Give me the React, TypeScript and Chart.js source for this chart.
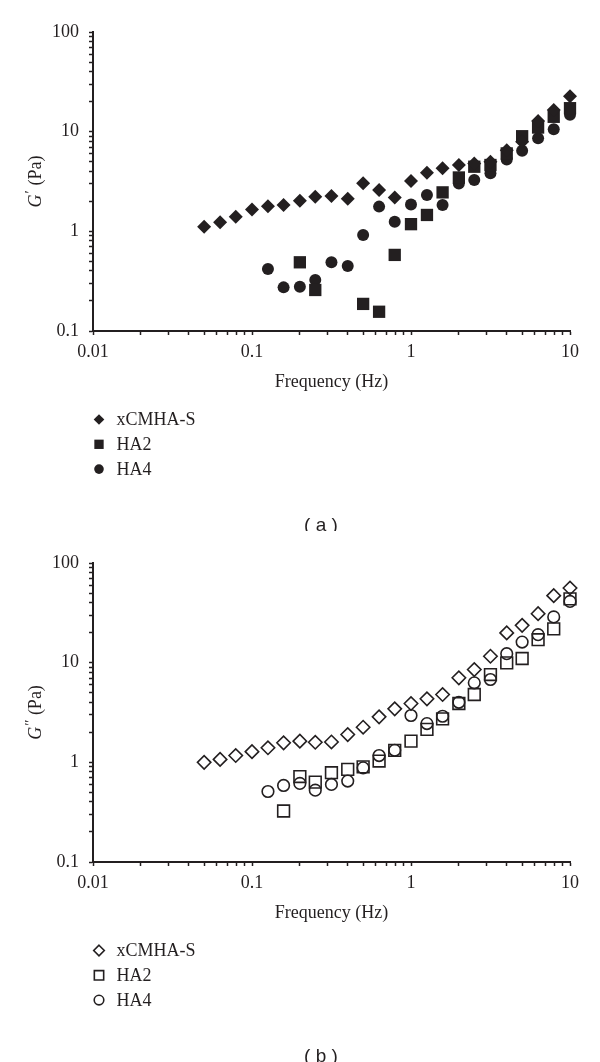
import React, { useEffect, useRef } from "react";
import { Chart, registerables } from "chart.js";

Chart.register(...registerables);

// ---------- data ----------
const frequency = [0.05, 0.063, 0.079, 0.1, 0.126, 0.158, 0.2, 0.25, 0.316, 0.4, 0.5, 0.63, 0.79, 1, 1.26, 1.58, 2, 2.5, 3.16, 4, 5, 6.3, 7.9, 10];
const seriesNames = ["xCMHA-S", "HA2", "HA4"];

// G' (Pa)
const storageXCMHA = [1.11, 1.23, 1.4, 1.66, 1.79, 1.84, 2.03, 2.22, 2.26, 2.12, 3.03, 2.6, 2.19, 3.2, 3.87, 4.29, 4.62, 4.8, 5.0, 6.5, 7.9, 12.8, 16.5, 22.6];
const storageHA2 = [null, null, null, null, null, null, 0.489, 0.258, null, null, 0.187, 0.156, 0.58, 1.18, 1.46, 2.46, 3.47, 4.45, 4.63, 6.05, 9.0, 11.0, 14.1, 17.2];
const storageHA4 = [null, null, null, null, 0.42, 0.274, 0.278, 0.325, 0.489, 0.449, 0.918, 1.77, 1.25, 1.86, 2.31, 1.84, 3.02, 3.27, 3.82, 5.27, 6.43, 8.57, 10.6, 14.8];

// G'' (Pa)
const lossXCMHA = [1.0, 1.07, 1.17, 1.28, 1.4, 1.57, 1.63, 1.59, 1.6, 1.9, 2.25, 2.86, 3.44, 3.89, 4.34, 4.79, 7.05, 8.53, 11.6, 19.9, 23.7, 31.0, 47.0, 56.1];
const lossHA2 = [null, null, null, null, null, 0.325, 0.72, 0.634, 0.787, 0.849, 0.9, 1.03, 1.32, 1.63, 2.14, 2.73, 3.89, 4.79, 7.6, 9.96, 11.0, 17.0, 21.8, 43.6];
const lossHA4 = [null, null, null, null, 0.51, 0.586, 0.615, 0.526, 0.6, 0.649, 0.88, 1.17, 1.32, 2.95, 2.45, 2.9, 4.0, 6.28, 6.78, 12.3, 16.1, 19.1, 28.8, 41.2];

const xTickLabels = ["0.01", "0.1", "1", "10"];
const yTickLabels = ["0.1", "1", "10", "100"];

// ---------- styles ----------
const FONT = '"Liberation Serif", "Times New Roman", serif';
const SANS = '"Liberation Sans", Arial, sans-serif';
const INK = "#231f20";
const markerStyles = ["rectRot", "rect", "circle"];
const filledRadii = [7, 8.7, 6];
const outlineRadii = [6.7, 8.3, 5.8];
const legendSizes = [5.3, 6.6, 4.8];

function decadeTicks(labels: string[]) {
  const lo = Math.round(Math.log10(Number(labels[0])));
  const hi = Math.round(Math.log10(Number(labels[labels.length - 1])));
  const out: number[] = [];
  for (let e = lo; e < hi; e++) {
    for (let m = 1; m <= 9; m++) out.push(Number((m * Math.pow(10, e)).toPrecision(6)));
  }
  out.push(Number(labels[labels.length - 1]));
  return out;
}

function labelFor(labels: string[], v: number) {
  const hit = labels.find((l) => Math.abs(Math.log10(Number(l)) - Math.log10(v)) < 1e-6);
  return hit ?? "";
}

function points(vals: (number | null)[]) {
  const out: { x: number; y: number }[] = [];
  frequency.forEach((f, i) => {
    const v = vals[i];
    if (v != null) out.push({ x: f, y: v });
  });
  return out;
}

function drawMarker(ctx: CanvasRenderingContext2D, style: string, x: number, y: number, size: number, filled: boolean) {
  ctx.beginPath();
  if (style === "rectRot") {
    ctx.moveTo(x, y - size);
    ctx.lineTo(x + size, y);
    ctx.lineTo(x, y + size);
    ctx.lineTo(x - size, y);
    ctx.closePath();
  } else if (style === "rect") {
    const h = size * Math.SQRT1_2;
    ctx.rect(x - h, y - h, 2 * h, 2 * h);
  } else {
    ctx.arc(x, y, size, 0, Math.PI * 2);
  }
  if (filled) {
    ctx.fillStyle = INK;
    ctx.fill();
  } else {
    ctx.strokeStyle = INK;
    ctx.lineWidth = 1.6;
    ctx.stroke();
  }
}

const decorPlugin = {
  id: "panelDecor",
  afterDraw(chart: any, _args: any, opts: any) {
    const ctx: CanvasRenderingContext2D = chart.ctx;
    const ca = chart.chartArea;
    ctx.save();
    // y-axis title with italic G and prime
    ctx.translate(36, (ca.top + ca.bottom) / 2);
    ctx.rotate(-Math.PI / 2);
    ctx.fillStyle = INK;
    ctx.textBaseline = "middle";
    ctx.textAlign = "left";
    const italic = `italic 18px ${FONT}`;
    const normal = `18px ${FONT}`;
    ctx.font = italic;
    const wG = ctx.measureText("G").width;
    ctx.font = `15px ${FONT}`;
    const wP = ctx.measureText(opts.prime).width;
    ctx.font = normal;
    const wR = ctx.measureText(" (Pa)").width;
    const x0 = -(wG + wP + 1 + wR) / 2;
    ctx.font = italic;
    ctx.fillText("G", x0, 0);
    ctx.font = `15px ${FONT}`;
    ctx.fillText(opts.prime, x0 + wG + 1, -5);
    ctx.font = normal;
    ctx.fillText(" (Pa)", x0 + wG + wP + 1, 0);
    ctx.restore();

    // legend
    ctx.save();
    ctx.font = `18px ${FONT}`;
    ctx.textBaseline = "middle";
    ctx.textAlign = "left";
    seriesNames.forEach((name, i) => {
      const y = 419.5 + i * 24.8;
      drawMarker(ctx, markerStyles[i], 99, y, legendSizes[i], opts.filled);
      ctx.fillStyle = INK;
      ctx.fillText(name, 116.5, y + 1);
    });
    // caption
    ctx.font = `19px ${SANS}`;
    ctx.textAlign = "center";
    ctx.fillStyle = INK;
    ctx.fillText(opts.caption, 321, 526);
    ctx.restore();
  },
};

function Panel({ series, filled, caption, prime }: { series: (number | null)[][]; filled: boolean; caption: string; prime: string }) {
  const ref = useRef<HTMLCanvasElement>(null);
  useEffect(() => {
    if (!ref.current) return;
    const xTicks = decadeTicks(xTickLabels);
    const yTicks = decadeTicks(yTickLabels);
    const radii = filled ? filledRadii : outlineRadii;
    const chart = new Chart(ref.current, {
      type: "scatter",
      data: {
        datasets: series.map((vals, i) => ({
          label: seriesNames[i],
          data: points(vals),
          pointStyle: markerStyles[i] as any,
          pointRadius: radii[i],
          pointHoverRadius: radii[i],
          backgroundColor: filled ? INK : "rgba(0,0,0,0)",
          borderColor: INK,
          borderWidth: filled ? 0 : 1.6,
          clip: false as any,
        })),
      },
      options: {
        animation: false,
        responsive: false,
        events: [],
        layout: { padding: { top: 32, right: 30, bottom: 137.8, left: 0 } },
        plugins: {
          legend: { display: false },
          tooltip: { enabled: false },
          panelDecor: { caption, prime, filled },
        } as any,
        scales: {
          x: {
            type: "logarithmic",
            min: 0.01,
            max: 10,
            afterBuildTicks: (s: any) => {
              s.ticks = xTicks.map((v) => ({ value: v }));
            },
            ticks: {
              autoSkip: false,
              maxRotation: 0,
              minRotation: 0,
              padding: 6,
              color: INK,
              font: { family: FONT, size: 18 },
              callback: (v: any) => labelFor(xTickLabels, Number(v)),
            },
            grid: { drawOnChartArea: false, drawTicks: true, tickLength: 4, tickWidth: 1.5, tickColor: INK },
            border: { display: true, color: INK, width: 2 },
            title: { display: true, text: "Frequency (Hz)", color: INK, font: { family: FONT, size: 18 }, padding: { top: 3, bottom: 0 } },
          },
          y: {
            type: "logarithmic",
            min: 0.1,
            max: 100,
            afterBuildTicks: (s: any) => {
              s.ticks = yTicks.map((v) => ({ value: v }));
            },
            afterFit: (s: any) => {
              s.width = 93;
            },
            ticks: {
              autoSkip: false,
              padding: 10,
              color: INK,
              font: { family: FONT, size: 18 },
              callback: (v: any) => labelFor(yTickLabels, Number(v)),
            },
            grid: { drawOnChartArea: false, drawTicks: true, tickLength: 4, tickWidth: 1.5, tickColor: INK },
            border: { display: true, color: INK, width: 2 },
          },
        },
      } as any,
      plugins: [decorPlugin],
    });
    return () => chart.destroy();
  }, [series, filled, caption, prime]);
  return <canvas ref={ref} width={600} height={531} style={{ display: "block", width: 600, height: 531 }} />;
}

const storageSeries = [storageXCMHA, storageHA2, storageHA4];
const lossSeries = [lossXCMHA, lossHA2, lossHA4];

export default function App() {
  return (
    <div style={{ position: "absolute", left: 0, top: 0, width: 600, height: 1062, background: "#fff" }}>
      <Panel series={storageSeries} filled={true} caption="( a )" prime={"\u2032"} />
      <Panel series={lossSeries} filled={false} caption="( b )" prime={"\u2033"} />
    </div>
  );
}
